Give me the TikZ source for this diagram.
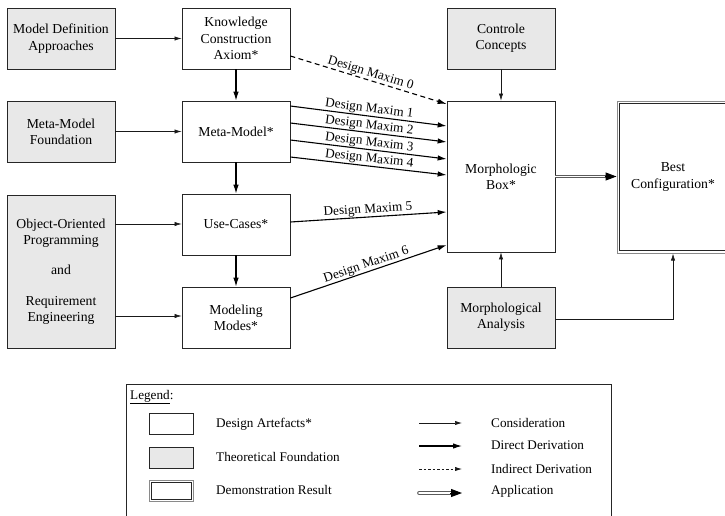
\documentclass[tikz,border=0pt]{standalone}
\usepackage{fontspec}
\setmainfont{Liberation Serif}
\usetikzlibrary{arrows.meta}

\definecolor{foundgray}{HTML}{E8E8E8}
\definecolor{framegray}{HTML}{8A8A8A}
\definecolor{applygray}{HTML}{5A5A5A}

\begin{document}
\begin{tikzpicture}[x=1pt,y=-1pt,
  box/.style={draw=black!85, line width=0.7pt, minimum width=108pt, minimum height=61pt,
              align=center, inner sep=2pt, font=\fontsize{13.7}{16.3}\selectfont},
  artefact/.style={box, fill=white},
  theory/.style={box, fill=foundgray},
  resultbox/.style={box, draw=framegray, line width=1pt, fill=white},
  consider/.style={-{Latex[length=7pt,width=4.2pt]}, line width=0.6pt, black!90},
  derive/.style={-{Latex[length=9pt,width=5.5pt]}, line width=1.1pt, black},
  indirect/.style={derive, dash pattern=on 5pt off 3.5pt},
  applyline/.style={draw=applygray, line width=3.6pt, postaction={draw=white, line width=1.6pt}},
  applytip/.style={-{Triangle[length=11pt,width=8pt]}, line width=1pt, black},
  maxim/.style={font=\fontsize{13.2}{15}\selectfont, sloped, above, midway, inner sep=0.5pt},
  legtext/.style={anchor=west, font=\fontsize{13.2}{15}\selectfont, inner sep=0pt},
  legbox/.style={draw=black!85, line width=0.7pt, minimum width=44pt, minimum height=21pt, inner sep=0pt}
]
\useasboundingbox (0,0) rectangle (725,515);

% theoretical foundations
\node[theory] (mda) at (61,38.5) {Model Definition\\Approaches};
\node[theory] (mmf) at (61,131.5) {Meta-Model\\Foundation};
\node[theory, minimum height=153pt] (oop) at (61,271.5)
  {Object-Oriented\\Programming\\[14pt]and\\[14pt]Requirement\\Engineering};
\node[theory] (cc) at (501,38.5) {Controle\\Concepts};
\node[theory] (ma) at (501,317.5) {Morphological\\Analysis};

% design artefacts
\node[artefact] (kca) at (236,38.5) {Knowledge\\Construction\\Axiom*};
\node[artefact] (mm) at (236,131.5) {Meta-Model*};
\node[artefact] (uc) at (236,224.5) {Use-Cases*};
\node[artefact] (mmo) at (236,317.5) {Modeling\\Modes*};
\node[artefact, minimum height=151pt] (mb) at (501,176.5) {Morphologic\\Box*};

% demonstration result
\node[resultbox, minimum width=112pt, minimum height=152pt] (bc) at (673,177)
  {Best\\Configuration*};
\draw[black!85, line width=0.6pt] ([shift={(3,3)}]bc.north west) rectangle ([shift={(-3,-3)}]bc.south east);

% consideration
\draw[consider] (mda) -- (kca);
\draw[consider] (mmf) -- (mm);
\draw[consider] ([yshift=47.5pt]oop.east) -- ([yshift=47.5pt]oop.east -| uc.west);
\draw[consider] ([yshift=-44.5pt]oop.east) -- ([yshift=-44.5pt]oop.east -| mmo.west);
\draw[consider] (cc) -- (mb);
\draw[consider] (ma) -- (mb);
\draw[consider] ([yshift=-1.5pt]ma.east) -| (bc.south);

% direct derivation
\draw[derive] (kca) -- (mm);
\draw[derive] (mm) -- (uc);
\draw[derive] (uc) -- (mmo);

% design maxims
\draw[indirect] ([yshift=-17.5pt]kca.east) -- node[maxim] {Design Maxim 0} ([yshift=72.5pt]mb.west);
\draw[derive] ([yshift=25.5pt]mm.east) -- node[maxim] {Design Maxim 1} ([yshift=50.5pt]mb.west);
\draw[derive] ([yshift=8.5pt]mm.east) -- node[maxim] {Design Maxim 2} ([yshift=34.5pt]mb.west);
\draw[derive] ([yshift=-8.5pt]mm.east) -- node[maxim] {Design Maxim 3} ([yshift=17.5pt]mb.west);
\draw[derive] ([yshift=-25.5pt]mm.east) -- node[maxim] {Design Maxim 4} ([yshift=1.5pt]mb.west);
\draw[derive] ([yshift=2.5pt]uc.east) -- node[maxim] {Design Maxim 5} ([yshift=-35.5pt]mb.west);
\draw[derive] ([yshift=19.5pt]mmo.east) -- node[maxim] {Design Maxim 6} ([yshift=-68.5pt]mb.west);

% application: double shaft, solid head
\coordinate (appback) at ([xshift=-10pt]bc.west |- mb.east);
\draw[applyline] (mb.east) -- (appback);
\draw[applytip] ([xshift=-2pt]appback) -- (bc.west |- mb.east);

% legend
\draw[black!85, line width=0.7pt] (126,520) -- (126,384) -- (611,384) -- (611,520);
\node[legtext] (legtitle) at (130,397) {\underline{Legend}:};

\node[legbox] (lgart) at (171,423.5) {};
\node[legbox, fill=foundgray] (lgthe) at (171,457.5) {};
\node[legbox, draw=framegray, line width=1pt] (lgres) at (171,491) {};
\draw[black!85, line width=0.6pt] ([shift={(2.5,2.5)}]lgres.north west) rectangle ([shift={(-2.5,-2.5)}]lgres.south east);

\node[legtext] (tart) at (216,424) {Design Artefacts*};
\node[legtext] (tthe) at (216,457) {Theoretical Foundation};
\node[legtext] (tres) at (216,490) {Demonstration Result};

\coordinate (c1a) at (419,423);  \coordinate (c1b) at (462,423);
\coordinate (c2a) at (419,446);  \coordinate (c2b) at (462,446);
\coordinate (c3a) at (419,469);  \coordinate (c3b) at (462,469);
\coordinate (c4a) at (419,493);  \coordinate (c4m) at (452,493);  \coordinate (c4b) at (462,493);
\draw[consider] (c1a) -- (c1b);
\draw[derive] (c2a) -- (c2b);
\draw[consider, dash pattern=on 2.5pt off 2pt] (c3a) -- (c3b);
\draw[applyline, line cap=round] (c4a) -- (c4m);
\draw[applytip] ([xshift=-2pt]c4m) -- (c4b);

\node[legtext] (tcon) at (491,423) {Consideration};
\node[legtext] (tdir) at (491,445) {Direct Derivation};
\node[legtext] (tind) at (491,469) {Indirect Derivation};
\node[legtext] (tapp) at (491,491) {Application};
\end{tikzpicture}
\end{document}
